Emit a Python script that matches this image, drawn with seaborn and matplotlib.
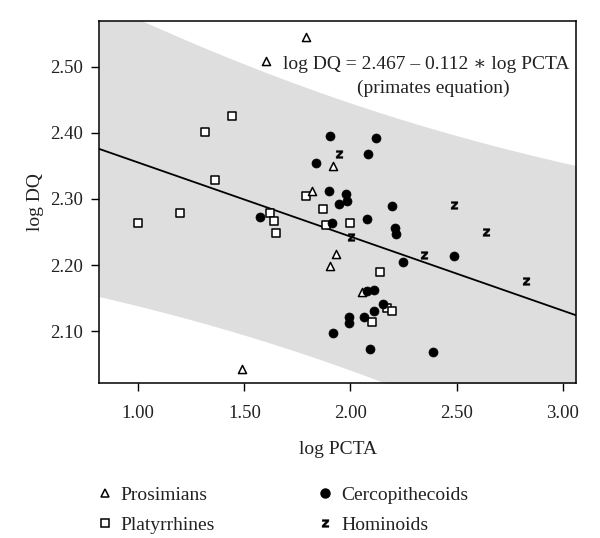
import numpy as np
import pandas as pd
import matplotlib
matplotlib.use("Agg")
import matplotlib.pyplot as plt
import seaborn as sns
from matplotlib.lines import Line2D

# ---- data ----
pros_x = [1.789, 1.602, 1.918, 1.820, 1.930, 1.902, 2.053, 1.487]
pros_y = [2.545, 2.509, 2.350, 2.312, 2.217, 2.199, 2.159, 2.043]

platy_x = [1.440, 1.314, 1.361, 1.789, 1.197, 1.000, 1.619, 1.640, 1.650, 1.872,
           1.883, 1.996, 2.140, 2.171, 2.194, 2.100]
platy_y = [2.425, 2.401, 2.328, 2.305, 2.279, 2.264, 2.278, 2.266, 2.249, 2.284,
           2.260, 2.263, 2.189, 2.135, 2.130, 2.114]

cerco_x = [1.905, 2.120, 2.084, 1.839, 1.900, 1.977, 1.985, 1.947, 1.913, 1.572,
           2.078, 2.197, 2.210, 2.214, 2.249, 2.488, 2.076, 2.109, 2.152, 2.109,
           2.062, 1.993, 1.993, 1.919, 2.092, 2.389]
cerco_y = [2.395, 2.392, 2.368, 2.355, 2.312, 2.307, 2.297, 2.292, 2.263, 2.273,
           2.270, 2.290, 2.256, 2.247, 2.205, 2.213, 2.160, 2.162, 2.141, 2.130,
           2.121, 2.122, 2.112, 2.097, 2.073, 2.069]

homin_x = [1.946, 2.002, 2.488, 2.637, 2.346, 2.827]
homin_y = [2.368, 2.243, 2.291, 2.250, 2.215, 2.176]

groups = ["Prosimians", "Platyrrhines", "Cercopithecoids", "Hominoids"]

# regression (primates equation) and prediction band parameters
intercept = 2.467
slope = -0.112
band_hw0 = 0.202
band_xc = 1.90
band_c = 0.19

xticks = [1.00, 1.50, 2.00, 2.50, 3.00]
yticks = [2.10, 2.20, 2.30, 2.40, 2.50]

# ---- plotting ----
sns.set_theme(style="white")
serif = ["Liberation Serif", "DejaVu Serif"]
plt.rcParams["font.family"] = serif

fig = plt.figure(figsize=(6.0, 5.38), dpi=100)
ax = fig.add_axes([0.1655, 0.289, 0.7945, 0.6725])

xlim = (0.8162, 3.0627)
ylim = (2.0222, 2.5696)

xs = np.linspace(xlim[0], xlim[1], 300)
fit = intercept + slope * xs
hw = band_hw0 * np.sqrt(1 + band_c * (xs - band_xc) ** 2)
ax.fill_between(xs, fit - hw, fit + hw, color="#dedede", linewidth=0, zorder=1)
sns.lineplot(x=xs, y=fit, ax=ax, color="black", linewidth=1.3, zorder=2)

df = pd.concat([
    pd.DataFrame({"x": platy_x, "y": platy_y, "g": "Platyrrhines"}),
    pd.DataFrame({"x": pros_x, "y": pros_y, "g": "Prosimians"}),
    pd.DataFrame({"x": cerco_x, "y": cerco_y, "g": "Cercopithecoids"}),
    pd.DataFrame({"x": homin_x, "y": homin_y, "g": "Hominoids"}),
])

styles = {
    "Prosimians": dict(marker="^", s=34, facecolor="white", edgecolor="black", linewidth=1.1),
    "Platyrrhines": dict(marker="s", s=26, facecolor="white", edgecolor="black", linewidth=1.1),
    "Cercopithecoids": dict(marker="o", s=42, facecolor="black", edgecolor="black", linewidth=0.5),
    "Hominoids": dict(marker=r"$\mathbf{z}$", s=30, facecolor="black", edgecolor="black", linewidth=0.3),
}
for i, g in enumerate(["Platyrrhines", "Prosimians", "Cercopithecoids", "Hominoids"]):
    sub = df[df["g"] == g]
    sns.scatterplot(data=sub, x="x", y="y", ax=ax, zorder=3 + i, legend=False, **styles[g])

ax.set_xlim(*xlim)
ax.set_ylim(*ylim)
ax.set_xticks(xticks)
ax.set_xticklabels([f"{t:.2f}" for t in xticks])
ax.set_yticks(yticks)
ax.set_yticklabels([f"{t:.2f}" for t in yticks])
ax.tick_params(axis="x", which="both", direction="out", length=6, width=1.0,
               color="black", labelsize=13.5, labelcolor="#222222", pad=10,
               bottom=True, top=False)
ax.tick_params(axis="y", which="both", direction="out", length=6, width=1.0,
               color="black", labelsize=13.5, labelcolor="#222222", pad=6,
               left=True, right=False)
for sp in ax.spines.values():
    sp.set_visible(True)
    sp.set_color("black")
    sp.set_linewidth(1.1)

ax.set_xlabel("log PCTA", fontsize=14, color="#222222", labelpad=14)
ax.set_ylabel("log DQ", fontsize=14, color="#222222", labelpad=4)

ax.text(0.685, 0.88, "log DQ = 2.467 – 0.112 ∗ log PCTA", transform=ax.transAxes,
        ha="center", va="center", fontsize=14, color="#222222", family=serif, zorder=10)
ax.text(0.70, 0.814, "(primates equation)", transform=ax.transAxes,
        ha="center", va="center", fontsize=14, color="#222222", family=serif, zorder=10)

handles = [
    Line2D([], [], linestyle="none", marker="^", markersize=6, markerfacecolor="white",
           markeredgecolor="black", markeredgewidth=1.1),
    Line2D([], [], linestyle="none", marker="s", markersize=5.5, markerfacecolor="white",
           markeredgecolor="black", markeredgewidth=1.1),
    Line2D([], [], linestyle="none", marker="o", markersize=6.5, markerfacecolor="black",
           markeredgecolor="black"),
    Line2D([], [], linestyle="none", marker=r"$\mathbf{z}$", markersize=5.5,
           markerfacecolor="black", markeredgecolor="black", markeredgewidth=0.3),
]
leg = fig.legend(handles, groups, loc="upper left",
                 bbox_to_anchor=(0.158, 1 - 486.5 / 538),
                 ncol=2, frameon=False, fontsize=14, handlelength=1.0, handletextpad=0.33,
                 columnspacing=5.17, labelspacing=0.63, borderpad=0, borderaxespad=0,
                 labelcolor="#222222")

fig.savefig("out.png", dpi=100)
